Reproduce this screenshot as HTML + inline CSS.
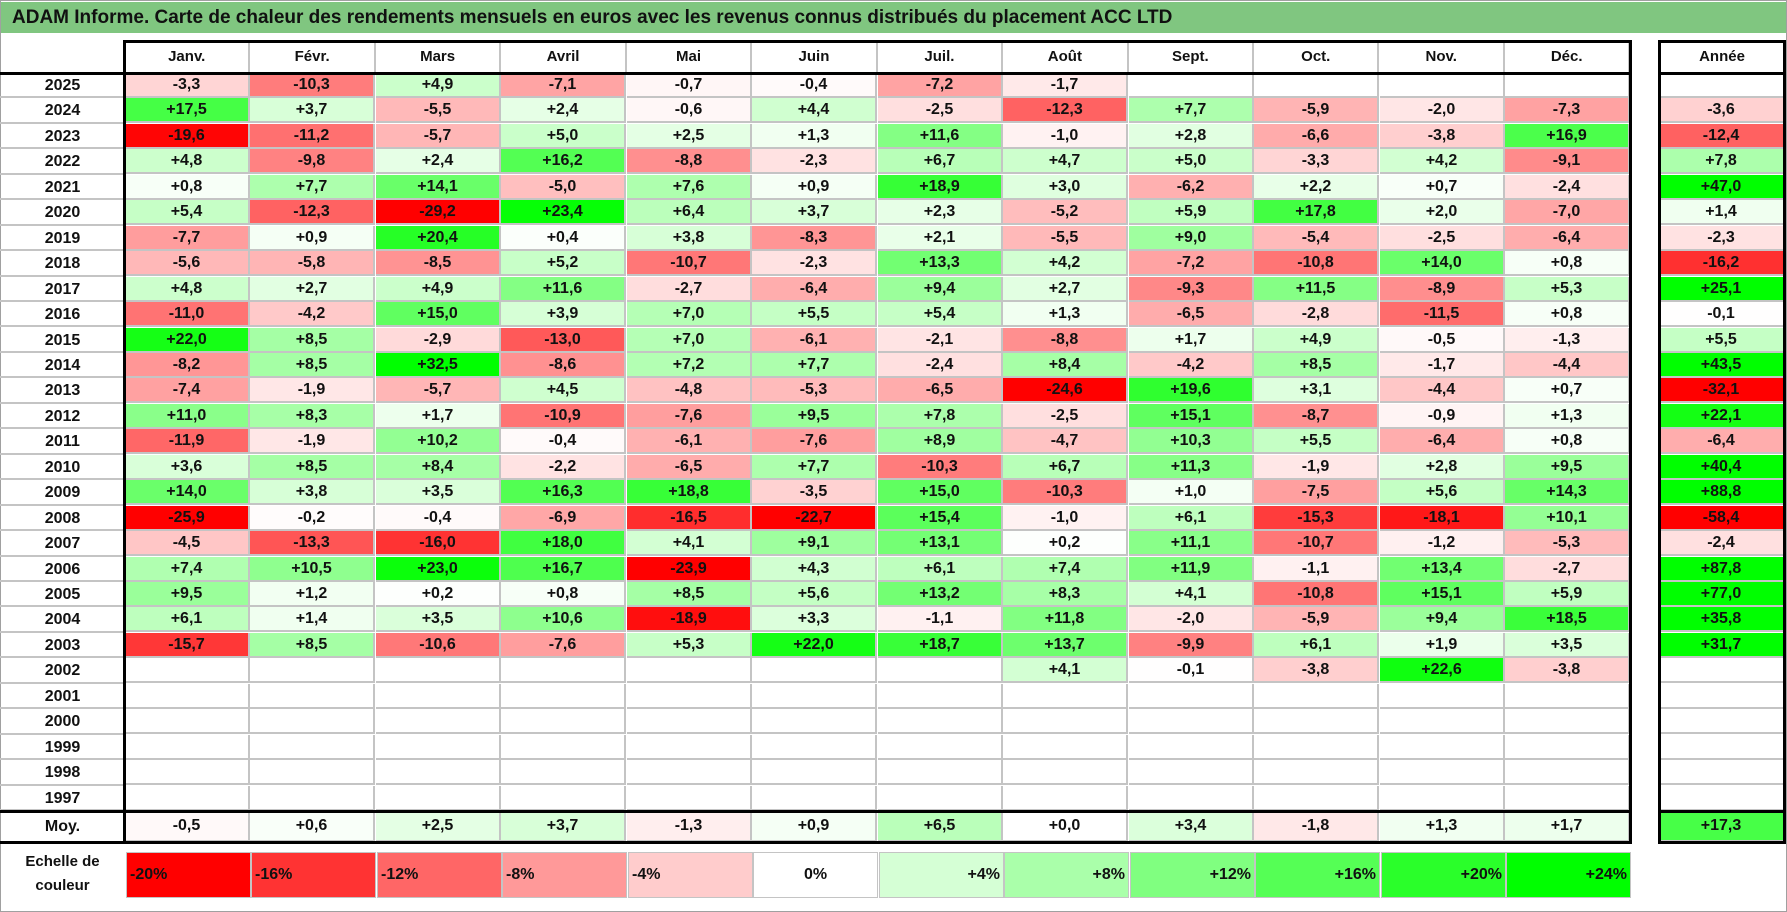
<!DOCTYPE html>
<html><head><meta charset="utf-8"><style>
body{margin:0;width:1787px;height:912px;background:#fff;font-family:"Liberation Sans",sans-serif;position:relative;overflow:hidden}
#frame{position:absolute;left:0;top:0;width:1785px;height:910px;border:1px solid #a0a0a0}
#title{position:absolute;left:1px;top:2px;width:1785px;height:31px;background:#80c680;font-weight:bold;font-size:19px;line-height:31px;padding-left:11px;box-sizing:border-box;color:#111}
.c{position:absolute;box-sizing:border-box;font-weight:bold;font-size:16px;text-align:center;color:#111;border-right:2px solid #c4c4c4;border-bottom:2px solid #c4c4c4}
.blk{position:absolute;background:#000}
.lab{position:absolute;font-weight:bold;font-size:16px;text-align:center;color:#111;box-sizing:border-box}
</style></head><body>
<div id="frame"></div>
<div id="title">ADAM Informe. Carte de chaleur des rendements mensuels en euros avec les revenus connus distribués du placement ACC LTD</div>
<div id="grid"></div>
<script>
const months=["Janv.","Févr.","Mars","Avril","Mai","Juin","Juil.","Août","Sept.","Oct.","Nov.","Déc."];
const years=[2025,2024,2023,2022,2021,2020,2019,2018,2017,2016,2015,2014,2013,2012,2011,2010,2009,2008,2007,2006,2005,2004,2003,2002,2001,2000,1999,1998,1997];
const N=null;
const monthly=[
[-3.3,-10.3,4.9,-7.1,-0.7,-0.4,-7.2,-1.7,N,N,N,N],
[17.5,3.7,-5.5,2.4,-0.6,4.4,-2.5,-12.3,7.7,-5.9,-2.0,-7.3],
[-19.6,-11.2,-5.7,5.0,2.5,1.3,11.6,-1.0,2.8,-6.6,-3.8,16.9],
[4.8,-9.8,2.4,16.2,-8.8,-2.3,6.7,4.7,5.0,-3.3,4.2,-9.1],
[0.8,7.7,14.1,-5.0,7.6,0.9,18.9,3.0,-6.2,2.2,0.7,-2.4],
[5.4,-12.3,-29.2,23.4,6.4,3.7,2.3,-5.2,5.9,17.8,2.0,-7.0],
[-7.7,0.9,20.4,0.4,3.8,-8.3,2.1,-5.5,9.0,-5.4,-2.5,-6.4],
[-5.6,-5.8,-8.5,5.2,-10.7,-2.3,13.3,4.2,-7.2,-10.8,14.0,0.8],
[4.8,2.7,4.9,11.6,-2.7,-6.4,9.4,2.7,-9.3,11.5,-8.9,5.3],
[-11.0,-4.2,15.0,3.9,7.0,5.5,5.4,1.3,-6.5,-2.8,-11.5,0.8],
[22.0,8.5,-2.9,-13.0,7.0,-6.1,-2.1,-8.8,1.7,4.9,-0.5,-1.3],
[-8.2,8.5,32.5,-8.6,7.2,7.7,-2.4,8.4,-4.2,8.5,-1.7,-4.4],
[-7.4,-1.9,-5.7,4.5,-4.8,-5.3,-6.5,-24.6,19.6,3.1,-4.4,0.7],
[11.0,8.3,1.7,-10.9,-7.6,9.5,7.8,-2.5,15.1,-8.7,-0.9,1.3],
[-11.9,-1.9,10.2,-0.4,-6.1,-7.6,8.9,-4.7,10.3,5.5,-6.4,0.8],
[3.6,8.5,8.4,-2.2,-6.5,7.7,-10.3,6.7,11.3,-1.9,2.8,9.5],
[14.0,3.8,3.5,16.3,18.8,-3.5,15.0,-10.3,1.0,-7.5,5.6,14.3],
[-25.9,-0.2,-0.4,-6.9,-16.5,-22.7,15.4,-1.0,6.1,-15.3,-18.1,10.1],
[-4.5,-13.3,-16.0,18.0,4.1,9.1,13.1,0.2,11.1,-10.7,-1.2,-5.3],
[7.4,10.5,23.0,16.7,-23.9,4.3,6.1,7.4,11.9,-1.1,13.4,-2.7],
[9.5,1.2,0.2,0.8,8.5,5.6,13.2,8.3,4.1,-10.8,15.1,5.9],
[6.1,1.4,3.5,10.6,-18.9,3.3,-1.1,11.8,-2.0,-5.9,9.4,18.5],
[-15.7,8.5,-10.6,-7.6,5.3,22.0,18.7,13.7,-9.9,6.1,1.9,3.5],
[N,N,N,N,N,N,N,4.1,-0.1,-3.8,22.6,-3.8],
[N,N,N,N,N,N,N,N,N,N,N,N],
[N,N,N,N,N,N,N,N,N,N,N,N],
[N,N,N,N,N,N,N,N,N,N,N,N],
[N,N,N,N,N,N,N,N,N,N,N,N],
[N,N,N,N,N,N,N,N,N,N,N,N]];
const annual=[N,-3.6,-12.4,7.8,47.0,1.4,-2.3,-16.2,25.1,-0.1,5.5,43.5,-32.1,22.1,-6.4,40.4,88.8,-58.4,-2.4,87.8,77.0,35.8,31.7,N,N,N,N,N,N];
const averages=[-0.5,0.6,2.5,3.7,-1.3,0.9,6.5,0.0,3.4,-1.8,1.3,1.7];
const averageYear=17.3;
const scaleTicks=[-20,-16,-12,-8,-4,0,4,8,12,16,20,24];

const X0=125,CW=125.45,Y0=73,RH=25.45,AX=1659,AW=126;
const g=document.getElementById('grid');
function color(v){
  if(v===null) return '#fff';
  if(v<0){const t=Math.min(1,-v/20);const k=Math.round(255*(1-t));return `rgb(255,${k},${k})`;}
  const t=Math.min(1,v/24);const k=Math.round(255*(1-t));return `rgb(${k},255,${k})`;
}
function fmt(v){if(v===null)return '';const s=Math.abs(v).toFixed(1).replace('.',',');return (v<0?'-':'+')+s;}
function cell(x,y,w,h,v,name){
  const d=document.createElement('div');
  d.className='c';
  
  
  d.style.cssText=`left:${x}px;top:${y}px;width:${w}px;height:${h}px;line-height:${h-2}px;background:${color(v)}`;
  d.textContent=fmt(v);
  g.appendChild(d);return d;
}
function lab(x,y,w,h,t,name,fs){
  const d=document.createElement('div');
  d.className='lab';
  
  
  d.style.cssText=`left:${x}px;top:${y}px;width:${w}px;height:${h}px;line-height:${h}px;`+(fs?`font-size:${fs}px`:'');
  d.textContent=t;g.appendChild(d);return d;
}
function line(x,y,w,h,name){
  const d=document.createElement('div');
  d.className='blk';
  
  
  d.style.cssText=`left:${x}px;top:${y}px;width:${w}px;height:${h}px`;
  g.appendChild(d);
}
// headers
months.forEach((m,i)=>{const d=lab(X0+i*CW,41,CW,32,m,'month-header',15);d.style.borderRight='2px solid #c4c4c4';});
lab(AX,41,AW,32,'Année','year-header',15);
// rows
years.forEach((y,r)=>{
  const top=Y0+r*RH;
  const l=lab(0,top,X0,RH,String(y),'year-label');
  l.style.borderBottom='2px solid #c4c4c4';
  monthly[r].forEach((v,i)=>cell(Math.round(X0+i*CW),Math.round(top),Math.round(CW),Math.round(RH),v,'cell-'+y+'-'+months[i]));
  cell(AX,Math.round(top),AW,Math.round(RH),annual[r],'annual-'+y);
});
const MY=Y0+years.length*RH;
lab(0,MY,X0,31,'Moy.','average-label');
averages.forEach((v,i)=>cell(Math.round(X0+i*CW),Math.round(MY),Math.round(CW),31,v,'average-'+months[i]));
cell(AX,Math.round(MY),AW,31,averageYear,'average-year');
// legend
const L=document.createElement('div');
L.className='lab';


L.style.cssText='left:0;top:850px;width:125px;height:48px;line-height:24px;font-size:15px';
L.innerHTML='Echelle de<br>couleur';g.appendChild(L);
scaleTicks.forEach((v,i)=>{
  const d=cell(Math.round(X0+1+i*CW),852,Math.round(CW),46,v,'legend-entry');
  d.textContent=(v>0?'+':'')+v+'%';
  d.style.lineHeight='44px';
  d.style.textAlign=v<0?'left':(v>0?'right':'center');
  d.style.padding='0 3px';
  d.style.border='1px solid #c4c4c4';
});
// thick borders
line(X0-2,40,1631-X0+3,3,'header-top-border');
line(X0-2,40,3,MY+31-40+2,'table-left-border');
line(1629,40,3,MY+31-40+2,'table-right-border');
line(0,72,1632,3,'header-bottom-border');
line(0,Math.round(MY)-1,1632,3,'average-top-border');
line(0,Math.round(MY)+30,1632,3,'average-bottom-border');
line(AX-1,40,AW+2,3,'annual-top');
line(AX-1,72,AW+2,3,'annual-header-bottom');
line(AX-1,40,3,MY+31-40+2,'annual-left');
line(AX+AW-2,40,3,MY+31-40+2,'annual-right');
line(AX-1,Math.round(MY)-1,AW+2,3,'annual-avg-top');
line(AX-1,Math.round(MY)+30,AW+2,3,'annual-avg-bottom');
</script>
</body></html>
